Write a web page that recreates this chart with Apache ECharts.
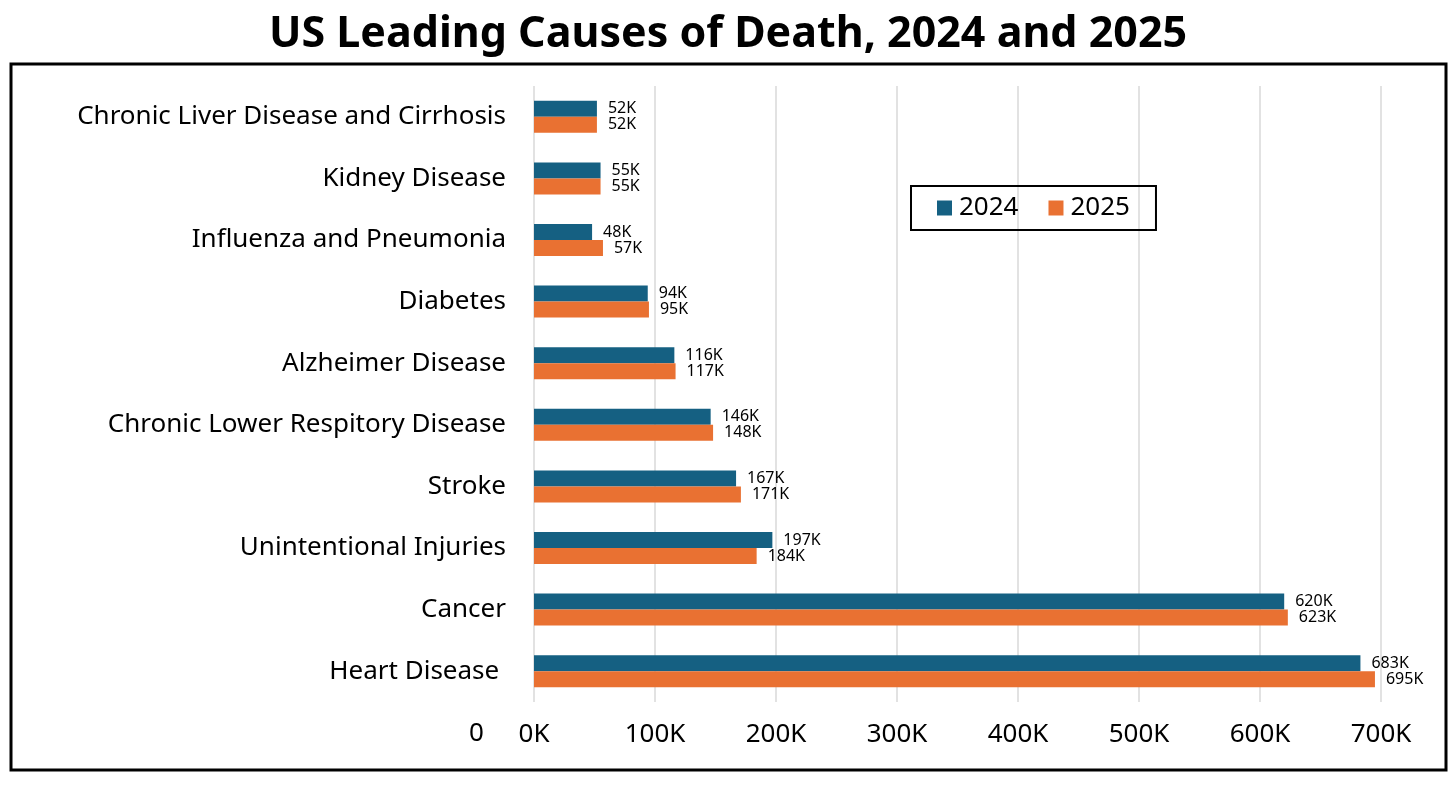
<!DOCTYPE html>
<html>
<head>
<meta charset="utf-8">
<script src="https://cdn.jsdelivr.net/npm/echarts@6/dist/echarts.min.js"></script>
<style>
  html, body { margin: 0; padding: 0; background: #fff; }
  #chart { width: 1456px; height: 789px; }
</style>
</head>
<body>
<div id="chart"></div>
<script>
// Categories listed top to bottom
const causes = [
    'Chronic Liver Disease and Cirrhosis',
    'Kidney Disease',
    'Influenza and Pneumonia',
    'Diabetes',
    'Alzheimer Disease',
    'Chronic Lower Respitory Disease',
    'Stroke',
    'Unintentional Injuries',
    'Cancer',
    'Heart Disease '
];
const deaths2024 = [52, 55, 48, 94, 116, 146, 167, 197, 620, 683];
const deaths2025 = [52, 55, 57, 95, 117, 148, 171, 184, 623, 695];
const xTicks = [0, 100, 200, 300, 400, 500, 600, 700];

const font = '"Noto Sans", sans-serif';
const chart = echarts.init(document.getElementById('chart'));

const valueLabel = {
    show: true,
    position: 'right',
    distance: 11,
    color: '#000',
    fontSize: 16,
    fontFamily: font,
    formatter: p => p.value + 'K'
};

chart.setOption({
    animation: false,
    color: ['#156082', '#E97132'],
    title: {
        text: 'US Leading Causes of Death, 2024 and 2025',
        left: 'center',
        top: 8,
        textStyle: { fontSize: 43, fontWeight: 'bold', fontFamily: font, color: '#000' }
    },
    legend: {
        data: ['2024', '2025'],
        left: 911,
        top: 186,
        orient: 'horizontal',
        icon: 'rect',
        itemWidth: 15,
        itemHeight: 15,
        itemGap: 30,
        padding: [9, 26],
        borderColor: '#000',
        borderWidth: 2,
        textStyle: { fontSize: 26, fontFamily: font, color: '#000', padding: [0, 0, 0, 2] }
    },
    graphic: [
        {
            type: 'rect',
            shape: { x: 11, y: 64, width: 1435, height: 706 },
            style: { fill: 'none', stroke: '#000', lineWidth: 3 },
            z: 10
        },
        {
            type: 'text',
            left: 469,
            top: 721,
            style: { text: '0', fontSize: 26, fontFamily: font, fill: '#000' }
        }
    ],
    grid: { left: 534, right: 75, top: 86, bottom: 87 },
    xAxis: {
        type: 'value',
        min: xTicks[0],
        max: xTicks[xTicks.length - 1],
        interval: 100,
        axisLine: { show: false },
        axisTick: { show: false },
        axisLabel: {
            margin: 20,
            fontSize: 26,
            fontFamily: font,
            color: '#000',
            formatter: v => v + 'K'
        },
        splitLine: { lineStyle: { color: '#d9d9d9', width: 1.5 } }
    },
    yAxis: {
        type: 'category',
        inverse: true,
        data: causes,
        axisLine: { show: false },
        axisTick: { show: false },
        axisLabel: {
            margin: 28,
            fontSize: 26,
            fontFamily: font,
            color: '#000'
        }
    },
    series: [
        {
            name: '2024',
            type: 'bar',
            data: deaths2024,
            barWidth: 16,
            barGap: '0%',
            label: valueLabel
        },
        {
            name: '2025',
            type: 'bar',
            data: deaths2025,
            barWidth: 16,
            barGap: '0%',
            label: valueLabel
        }
    ]
});

window.addEventListener('resize', function() {
    chart.resize();
});
</script>
</body>
</html>
